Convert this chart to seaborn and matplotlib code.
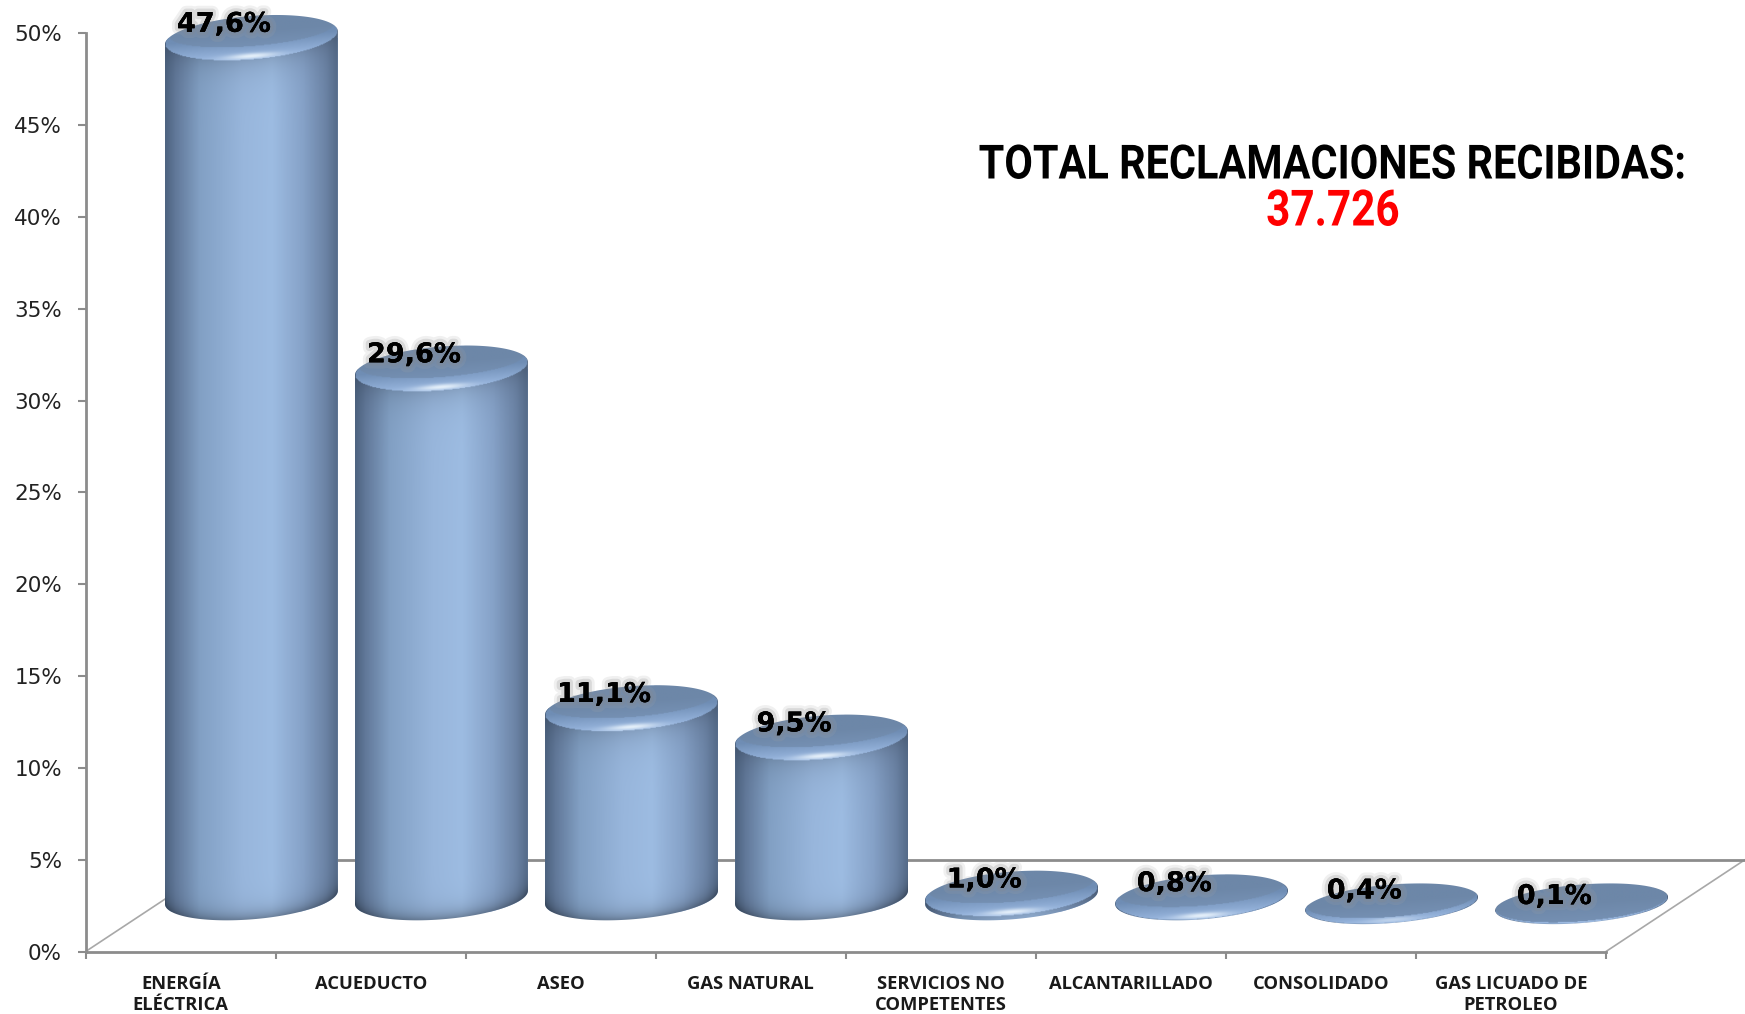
import matplotlib
matplotlib.use("Agg")
import matplotlib.pyplot as plt
import matplotlib.patheffects as pe
from matplotlib.colors import LinearSegmentedColormap, to_rgb
from matplotlib.patches import Polygon
from matplotlib.transforms import Affine2D
import numpy as np
import seaborn as sns

# Data
categories = ["ENERGÍA\nELÉCTRICA", "ACUEDUCTO", "ASEO", "GAS NATURAL",
              "SERVICIOS NO\nCOMPETENTES", "ALCANTARILLADO", "CONSOLIDADO",
              "GAS LICUADO DE\nPETROLEO"]
values = [47.6, 29.6, 11.1, 9.5, 1.0, 0.8, 0.4, 0.1]
y_ticks = [0, 5, 10, 15, 20, 25, 30, 35, 40, 45, 50]
title_text = "TOTAL RECLAMACIONES RECIBIDAS:"
total_text = "37.726"

# 3D look of the original chart
W, H = 1745, 1014
BASE = 2.15        # how far the bars float over the axis
FOOT = 2.95        # centre of the bottom ellipse
SHIFT = 0.372      # bars sit towards the back of the floor
BAR_B = 1.2        # half height of the ellipses, in % units
TILT = 0.36
GREY = "#8c8c8c"

body_cmap = LinearSegmentedColormap.from_list(
    "cyl", [(0, "#4d6380"), (0.06, "#62799a"), (0.2, "#82a0c4"), (0.45, "#98b6dc"),
            (0.62, "#9dbce2"), (0.8, "#86a2c8"), (0.93, "#6c84a6"), (1, "#566c8a")])


class Squeeze(pe.AbstractPathEffect):
    # no condensed font installed, so narrow the glyphs around the text centre
    def __init__(self, sx, cx):
        super().__init__()
        self.sx = sx
        self.cx = cx

    def draw_path(self, renderer, gc, tpath, affine, rgbFace=None):
        squeeze = Affine2D().translate(-self.cx, 0).scale(self.sx, 1).translate(self.cx, 0)
        renderer.draw_path(gc, tpath, affine + squeeze, rgbFace)


def ellipse_arc(cx, cy, a, b, t):
    return cx + a * np.cos(t), cy + b * np.sin(t) + TILT * np.cos(t)


def lerp(c1, c2, f):
    f = np.clip(f, 0, 1)[..., None]
    return np.array(to_rgb(c1)) * (1 - f) + np.array(to_rgb(c2)) * f


def draw_cylinder(ax, patch, val):
    a = patch.get_width() / 2
    cx = patch.get_x() + a
    top = patch.get_y() + val
    has_body = val >= 0.5
    cap_y = top if has_body else max(top, 2.6)
    cap_b = BAR_B if has_body else 1.05
    s = min(val / 0.8, 1)

    t = np.linspace(0, np.pi, 80)
    tx, ty = ellipse_arc(cx, cap_y, a, cap_b, t)
    if has_body:
        bx, by = ellipse_arc(cx, FOOT, a, BAR_B, t + np.pi)
    else:
        bx, by = ellipse_arc(cx, cap_y, a, cap_b, t + np.pi)
    outline = Polygon(np.column_stack([np.r_[tx, bx], np.r_[ty, by]]), closed=True,
                      transform=ax.transData, fc="none", ec="none", clip_on=False)
    ax.add_patch(outline)
    patch.set_clip_box(fig.bbox)
    patch.set_clip_path(outline)

    ymin, ymax = by.min() - 0.1, ty.max() + 0.1
    X, Y = np.meshgrid(np.linspace(cx - a, cx + a, 220),
                       np.linspace(ymin, ymax, int((ymax - ymin) * 22) + 2))
    u = (X - cx) / a
    root = np.sqrt(np.clip(1 - u ** 2, 0, 1))

    # body: sideways gradient, darker towards the foot and under the rim
    rgb = body_cmap((u + 1) / 2)[..., :3]
    foot_edge = FOOT - BAR_B * root + TILT * u
    rim_edge = cap_y - cap_b * root + TILT * u
    foot_dark = 0.3 if val > 2 else 0.0
    shade = 1 - foot_dark * np.exp(-np.clip(Y - foot_edge, 0, None) / 0.45)
    shade = shade - 0.14 * np.exp(-np.clip(rim_edge - Y, 0, None) / 0.8)
    rgb = rgb * shade[..., None]

    # top: rim with highlight, then the flat cap
    V = (Y - cap_y - TILT * u) / cap_b
    in_top = u ** 2 + V ** 2 < 1
    rim = lerp("#6f8db4", "#9dbbe4", -V)
    glow = np.exp(-(u / 0.3) ** 2) * np.exp(-((V + 0.85) / 0.13) ** 2) * s
    rim = rim + (np.array([0.95, 0.98, 1.0]) - rim) * glow[..., None] * 0.85
    rgb[in_top] = rim[in_top]
    V2 = (V - 0.3 * s) / (1 - 0.3 * s)
    u2 = u / (1 - 0.05 * s)
    in_cap = u2 ** 2 + V2 ** 2 < 1
    cap = lerp("#7590b3", "#6d87a8", (V2 + 1) / 1.0)
    rgb[in_cap] = cap[in_cap]

    img = ax.imshow(np.clip(rgb, 0, 1), extent=(cx - a, cx + a, ymin, ymax), origin="lower",
                    aspect="auto", interpolation="bilinear", zorder=3)
    img.set_clip_box(fig.bbox)
    img.set_clip_path(outline)


sns.set_style("white")
fig = plt.figure(figsize=(W / 100, H / 100), dpi=100)
x0, x1, y0, y1 = 85.7, 1606, 951.5, 33.4
ax = fig.add_axes([x0 / W, 1 - y0 / H, (x1 - x0) / W, (y0 - y1) / H])

sns.barplot(x=categories, y=values, color="#9dbce2", saturation=1, width=0.91, ax=ax, zorder=2)
ax.set_xlim(-0.5, 7.5)
ax.set_ylim(0, 50)

for patch, val in zip(ax.patches[:len(values)], values):
    patch.set_x(patch.get_x() + SHIFT)
    patch.set_y(BASE)
    patch.set_linewidth(0)
    draw_cylinder(ax, patch, val)
    ax.text(patch.get_x() + patch.get_width() / 2 - 0.144, val + 2.87,
            f"{val:.1f}%".replace(".", ","), ha="center", va="center", fontsize=19.5,
            fontweight="bold", color="black", zorder=5,
            path_effects=[pe.withStroke(linewidth=9, foreground="#a5a5a5", alpha=0.16),
                          pe.withStroke(linewidth=5, foreground="#8a8a8a", alpha=0.22),
                          pe.Normal()])

ax.set_xlim(-0.5, 7.5)
ax.set_ylim(0, 50)

# floor of the 3D frame
depth = 139 / ((x1 - x0) / 8)
floor = dict(clip_on=False, zorder=1)
ax.plot([-0.5, -0.5 + depth], [0, 5], color="#a8a8a8", lw=1.2, **floor)
ax.plot([7.5, 7.5 + depth], [0, 5], color="#a8a8a8", lw=1.2, **floor)
ax.plot([-0.5 + depth, 7.5 + depth], [5, 5], color=GREY, lw=2, **floor)

sns.despine(ax=ax)
for side in ["left", "bottom"]:
    ax.spines[side].set_color(GREY)
    ax.spines[side].set_linewidth(2)

ax.set_yticks(y_ticks)
ax.set_yticklabels([f"{v}%" for v in y_ticks], fontsize=15.5, color="#222222")
ax.tick_params(axis="y", left=True, length=6, width=1.5, color=GREY, pad=11)
ax.set_xticks(np.arange(-0.5, 8, 1), minor=True)
ax.tick_params(axis="x", which="minor", bottom=True, length=5, width=1.5, color=GREY)
ax.tick_params(axis="x", which="major", bottom=False, pad=13.5)
for lab in ax.get_xticklabels():
    lab.set_fontfamily("Open Sans")
    lab.set_fontweight("bold")
    lab.set_fontsize(13.2)
    lab.set_color("#1a1a1a")
    lab.set_linespacing(1.18)

# title and total, squeezed like the condensed face of the original
cx_px = 1333
fig.text(cx_px / W, 1 - 165.5 / H, title_text, ha="center", va="center", family="Roboto",
         fontweight="bold", fontsize=34, color="black",
         path_effects=[Squeeze(0.877, cx_px)])
fig.text(cx_px / W, 1 - 212 / H, total_text, ha="center", va="center", family="Roboto",
         fontweight="bold", fontsize=36, color="#ff0000",
         path_effects=[Squeeze(0.845, cx_px)])

fig.savefig("out.png", dpi=100)
